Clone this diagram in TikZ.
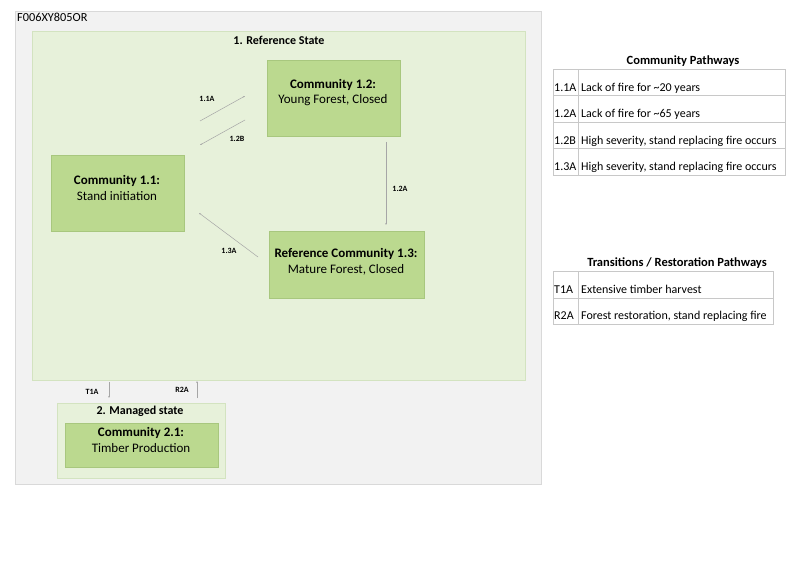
\documentclass[tikz,border=0pt]{standalone}
\usepackage{fontspec}
\setmainfont{Carlito}
\usetikzlibrary{arrows.meta,positioning}

\definecolor{framefill}{HTML}{F2F2F2}
\definecolor{framedraw}{HTML}{D9D9D9}
\definecolor{statefill}{HTML}{E7F1DA}
\definecolor{statedraw}{HTML}{D3E3C0}
\definecolor{commfill}{HTML}{BBD98F}
\definecolor{commdraw}{HTML}{A8C77E}
\definecolor{pathgray}{HTML}{A6A6A6}
\definecolor{cellgray}{HTML}{C8C8C8}

\tikzset{
  framebox/.style={draw=framedraw, fill=framefill, anchor=north west, inner sep=0pt},
  statebox/.style={draw=statedraw, fill=statefill, anchor=north west, inner sep=0pt},
  commbox/.style={draw=commdraw, fill=commfill, anchor=north west, inner sep=0pt},
  commtext/.style={align=center, inner sep=0pt, font=\fontsize{13}{15.5}\selectfont},
  titletext/.style={inner sep=0pt, font=\fontsize{12}{14}\selectfont\bfseries},
  pathlabel/.style={inner sep=0pt, font=\fontsize{8}{9}\selectfont\bfseries},
  pathline/.style={->, draw=pathgray, line width=0.5pt},
  cellbox/.style={draw=cellgray, anchor=north west, inner sep=0pt, minimum height=26.5pt},
  celltext/.style={anchor=base west, inner sep=0pt, font=\fontsize{12}{14}\selectfont},
}

\begin{document}
\begin{tikzpicture}[x=1pt, y=-1pt, >={Stealth[length=2pt,width=1.6pt]}]
  \useasboundingbox (0,0) rectangle (800,572);

  % outer frame
  \node[framebox, minimum width=526pt, minimum height=473pt] (frame) at (15,11) {};
  \node[anchor=north west, inner sep=0pt, font=\fontsize{12.3}{14}\selectfont] (code) at (17,13) {F006XY805OR};

  % state 1
  \node[statebox, minimum width=493pt, minimum height=349pt] (state1) at (32,31) {};
  \node[titletext] (state1title) at (279,40) {1. Reference State};

  \node[commbox, minimum width=133pt, minimum height=76pt] (c12) at (267,60) {};
  \node[commtext] (c12text) at (333,92.5) {\textbf{Community 1.2:}\\Young Forest, Closed};

  \node[commbox, minimum width=133pt, minimum height=76pt] (c11) at (51,155) {};
  \node[commtext] (c11text) at (117,188) {\textbf{Community 1.1:}\\Stand initiation};

  \node[commbox, minimum width=155pt, minimum height=67pt] (c13) at (269,231) {};
  \node[commtext] (c13text) at (346,262) {\textbf{Reference Community 1.3:}\\Mature Forest, Closed};

  % state 2
  \node[statebox, minimum width=168pt, minimum height=75pt] (state2) at (57,403) {};
  \node[titletext] (state2title) at (140,411) {2. Managed state};
  \node[commbox, minimum width=153pt, minimum height=44pt] (c21) at (65,423) {};
  \node[commtext] (c21text) at (141,440) {\textbf{Community 2.1:}\\Timber Production};

  % pathways
  \coordinate (p11a-s) at (200,121);
  \coordinate (p11a-e) at (245,96);
  \coordinate (p12b-s) at (245,120);
  \coordinate (p12b-e) at (200,145);
  \coordinate (p12a-s) at (386,142);
  \coordinate (p12a-e) at (386,225);
  \coordinate (p13a-s) at (258,257);
  \coordinate (p13a-e) at (199,213);
  \coordinate (t1a-s) at (109,382);
  \coordinate (t1a-e) at (109,398);
  \coordinate (r2a-s) at (197,398);
  \coordinate (r2a-e) at (197,381);

  \draw[pathline] (p11a-s) -- (p11a-e);
  \draw[pathline] (p12b-s) -- (p12b-e);
  \draw[pathline] (p12a-s) -- (p12a-e);
  \draw[pathline] (p13a-s) -- (p13a-e);
  \draw[pathline] (t1a-s) -- (t1a-e);
  \draw[pathline] (r2a-s) -- (r2a-e);

  \node[pathlabel] (l11a) at (207,99) {1.1A};
  \node[pathlabel] (l12b) at (237,139) {1.2B};
  \node[pathlabel] (l12a) at (400,189) {1.2A};
  \node[pathlabel] (l13a) at (229,251) {1.3A};
  \node[pathlabel] (lt1a) at (92,392) {T1A};
  \node[pathlabel] (lr2a) at (182,390) {R2A};

  % legend: community pathways
  \node[titletext, font=\fontsize{12.5}{14}\selectfont\bfseries] (cptitle) at (683,61) {Community Pathways};
  \foreach \k/\t [count=\i] in {1.1A/{Lack of fire for \textasciitilde20 years},
                               1.2A/{Lack of fire for \textasciitilde65 years},
                               1.2B/{High severity, stand replacing fire occurs},
                               1.3A/{High severity, stand replacing fire occurs}} {
    \node[cellbox, minimum width=25pt] (cpk\i) at (553,{69+(\i-1)*26.5}) {};
    \node[cellbox, minimum width=207pt] (cpt\i) at (578,{69+(\i-1)*26.5}) {};
    \node[celltext] at ([xshift=1pt,yshift=4.5pt]cpk\i.south west) {\k};
    \node[celltext] at ([xshift=3pt,yshift=4.5pt]cpt\i.south west) {\t};
  }

  % legend: transitions
  \node[titletext, font=\fontsize{12.5}{14}\selectfont\bfseries] (trtitle) at (677,263) {Transitions / Restoration Pathways};
  \foreach \k/\t [count=\i] in {T1A/{Extensive timber harvest},
                               R2A/{Forest restoration, stand replacing fire}} {
    \node[cellbox, minimum width=25pt] (trk\i) at (553,{271+(\i-1)*26.5}) {};
    \node[cellbox, minimum width=195pt] (trt\i) at (578,{271+(\i-1)*26.5}) {};
    \node[celltext] at ([xshift=1pt,yshift=4.5pt]trk\i.south west) {\k};
    \node[celltext] at ([xshift=3pt,yshift=4.5pt]trt\i.south west) {\t};
  }
\end{tikzpicture}
\end{document}
